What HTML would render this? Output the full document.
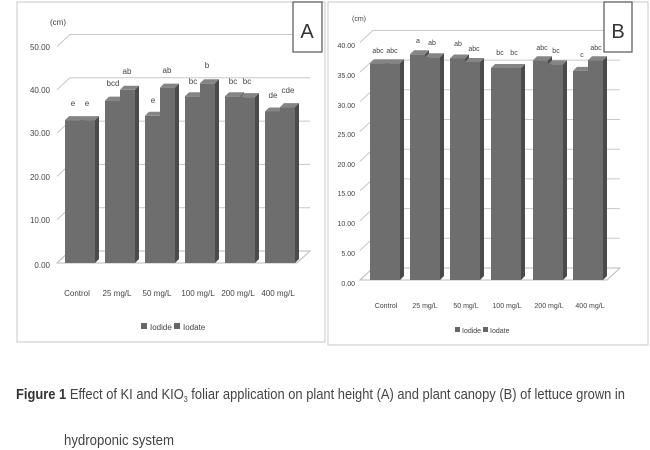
<!DOCTYPE html>
<html><head><meta charset="utf-8"><style>
html,body{margin:0;padding:0;background:#fff;width:650px;height:450px;overflow:hidden}
svg text{font-family:"Liberation Sans",sans-serif}
</style></head><body>
<svg id="s" width="650" height="450" viewBox="0 0 650 450">
<rect x="17" y="2" width="308" height="340" fill="#fff" stroke="#d0d0d0" stroke-width="1.2"/>
<rect x="328" y="2" width="320" height="343" fill="#fff" stroke="#d0d0d0" stroke-width="1.2"/>
<g id="A"></g><g id="B"></g>
<rect x="293" y="2" width="29" height="50" fill="#fff" stroke="#555" stroke-width="1.2"/>
<text x="307" y="38" font-size="20" text-anchor="middle" fill="#333">A</text>
<rect x="604" y="2" width="28" height="50" fill="#fff" stroke="#555" stroke-width="1.2"/>
<text x="618" y="38" font-size="20" text-anchor="middle" fill="#333">B</text>
<g font-size="8" fill="#444" text-anchor="end">
<text x="50" y="25" text-anchor="start">(cm)</text>
<text x="50" y="50">50.00</text><text x="50" y="93">40.00</text><text x="50" y="136">30.00</text>
<text x="50" y="180">20.00</text><text x="50" y="223">10.00</text><text x="50" y="268">0.00</text>
</g>
<g font-size="7" fill="#444" text-anchor="end">
<text x="352" y="21" text-anchor="start">(cm)</text>
<text x="355" y="48">40.00</text><text x="355" y="78">35.00</text><text x="355" y="108">30.00</text>
<text x="355" y="137">25.00</text><text x="355" y="167">20.00</text><text x="355" y="196">15.00</text>
<text x="355" y="226">10.00</text><text x="355" y="256">5.00</text><text x="355" y="286">0.00</text>
</g>
<g font-size="8" fill="#444" text-anchor="middle">
<text x="77" y="296">Control</text><text x="117" y="296">25 mg/L</text><text x="157" y="296">50 mg/L</text>
<text x="198" y="296">100 mg/L</text><text x="238" y="296">200 mg/L</text><text x="278" y="296">400 mg/L</text>
</g>
<g font-size="7" fill="#444" text-anchor="middle">
<text x="386" y="308">Control</text><text x="425" y="308">25 mg/L</text><text x="466" y="308">50 mg/L</text>
<text x="507" y="308">100 mg/L</text><text x="549" y="308">200 mg/L</text><text x="590" y="308">400 mg/L</text>
</g>
<g font-size="8" fill="#444">
<rect x="141" y="323" width="6" height="6" fill="#666"/><text x="150" y="330">Iodide</text>
<rect x="174" y="323" width="6" height="6" fill="#666"/><text x="183" y="330">Iodate</text>
</g>
<g font-size="7" fill="#444">
<rect x="455" y="327" width="5" height="5" fill="#666"/><text x="462" y="333">Iodide</text>
<rect x="483" y="327" width="5" height="5" fill="#666"/><text x="490" y="333">Iodate</text>
</g>
<g font-size="8" fill="#444" text-anchor="middle">
<text x="73" y="106">e</text><text x="87" y="106">e</text>
<text x="113" y="86">bcd</text><text x="127" y="74">ab</text>
<text x="153" y="103">e</text><text x="167" y="73">ab</text>
<text x="193" y="84">bc</text><text x="207" y="68">b</text>
<text x="233" y="84">bc</text><text x="247" y="84">bc</text>
<text x="273" y="98">de</text><text x="288" y="93">cde</text>
</g>
<g font-size="7" fill="#444" text-anchor="middle">
<text x="378" y="53">abc</text><text x="392" y="53">abc</text>
<text x="418" y="43">a</text><text x="432" y="45">ab</text>
<text x="458" y="46">ab</text><text x="474" y="51">abc</text>
<text x="500" y="55">bc</text><text x="514" y="55">bc</text>
<text x="542" y="50">abc</text><text x="556" y="53">bc</text>
<text x="582" y="57">c</text><text x="596" y="50">abc</text>
</g>
<text x="16" y="399" font-size="14.5" fill="#444" textLength="609" lengthAdjust="spacingAndGlyphs"><tspan font-weight="bold" fill="#333">Figure 1</tspan> Effect of KI and KIO<tspan font-size="8" dy="3">3</tspan><tspan dy="-3"> foliar application on plant height (A) and plant canopy (B) of lettuce grown in</tspan></text>
<text x="64" y="445" font-size="14.5" fill="#444" textLength="110" lengthAdjust="spacingAndGlyphs">hydroponic system</text>
</svg>
<script>
var NS="http://www.w3.org/2000/svg";
function el(g,t,a){var e=document.createElementNS(NS,t);for(var k in a)e.setAttribute(k,a[k]);g.appendChild(e);return e;}
function chart(id,o){
 var g=document.getElementById(id);
 // grid
 for(var i=0;i<o.n;i++){var y=o.base-i*o.step;
  el(g,"polyline",{points:(o.x0)+","+y+" "+(o.x0+o.dx)+","+(y-o.dy)+" "+o.x1+","+(y-o.dy),fill:"none",stroke:"#c8c8c8","stroke-width":1});}
 // floor
 var y=o.base;el(g,"polygon",{points:o.x0+","+y+" "+(o.x0+o.dx)+","+(y-o.dy)+" "+(o.x1)+","+(y-o.dy)+" "+(o.x1-o.dx)+","+y,fill:"#fff",stroke:"#bbb"});
 o.vals.forEach(function(p,i){
  p.forEach(function(v,j){
   var x=o.gx[i]+j*o.bw, h=v*o.scale, top=o.base-h, d=o.d;
   el(g,"rect",{x:x,y:top,width:o.bw,height:h,fill:"#6e6e6e"});
   el(g,"polygon",{points:(x+o.bw)+","+top+" "+(x+o.bw+d)+","+(top-d)+" "+(x+o.bw+d)+","+(o.base-d)+" "+(x+o.bw)+","+o.base,fill:"#4a4a4a"});
   el(g,"polygon",{points:x+","+top+" "+(x+d)+","+(top-d)+" "+(x+o.bw+d)+","+(top-d)+" "+(x+o.bw)+","+top,fill:"#858585"});
  });
 });
}
chart("A",{x0:57,x1:310,dx:13,dy:12,base:263,step:43.3,n:6,scale:4.33,bw:15,d:4,
 gx:[65,105,145,185,225,265],
 vals:[[33,33],[37.5,40],[34,40.5],[38.5,41.5],[38.5,38.3],[35,36]]});
chart("B",{x0:360,x1:620,dx:13,dy:12,base:280,step:29.7,n:9,scale:5.94,bw:15,d:4,
 gx:[370,410,450,491,533,573],
 vals:[[36.5,36.5],[38,37.5],[37.3,36.7],[35.7,35.7],[37,36.3],[35.2,37]]});
</script>
</body></html>
